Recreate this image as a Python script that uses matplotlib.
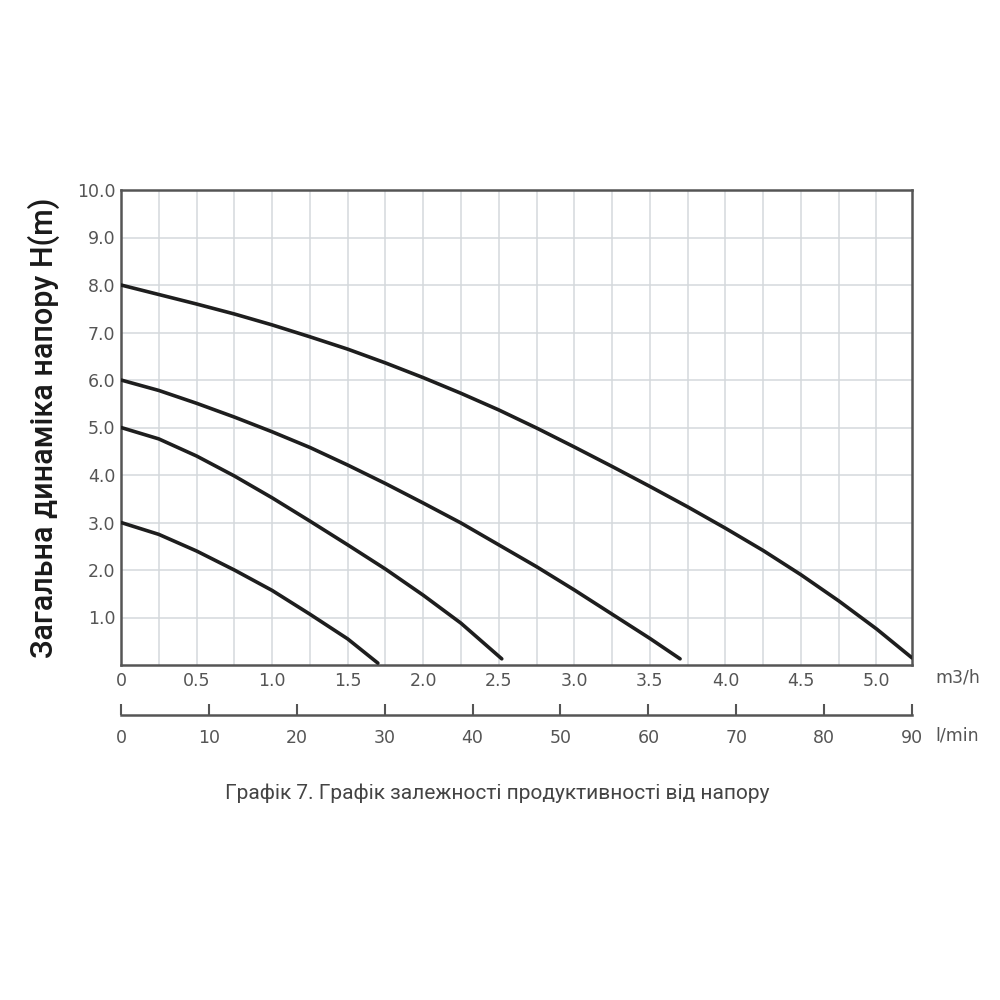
import matplotlib.pyplot as plt

# flow in m3/h, head in m
flow_3m = [0, 0.25, 0.5, 0.75, 1.0, 1.25, 1.5, 1.70]
head_3m = [3.0, 2.75, 2.4, 2.0, 1.57, 1.07, 0.55, 0.04]

flow_5m = [0, 0.25, 0.5, 0.75, 1.0, 1.25, 1.5, 1.75, 2.0, 2.25, 2.52]
head_5m = [5.0, 4.76, 4.4, 3.98, 3.52, 3.03, 2.53, 2.02, 1.47, 0.88, 0.13]

flow_6m = [0, 0.25, 0.5, 0.75, 1.0, 1.25, 1.5, 1.75, 2.0, 2.25, 2.5, 2.75, 3.0, 3.25, 3.5, 3.70]
head_6m = [6.0, 5.78, 5.51, 5.22, 4.91, 4.58, 4.21, 3.82, 3.41, 2.99, 2.53, 2.07, 1.58, 1.07, 0.56, 0.13]

flow_8m = [0, 0.25, 0.5, 0.75, 1.0, 1.25, 1.5, 1.75, 2.0, 2.25, 2.5, 2.75,
           3.0, 3.25, 3.5, 3.75, 4.0, 4.25, 4.5, 4.75, 5.0, 5.235]
head_8m = [8.0, 7.8, 7.6, 7.39, 7.16, 6.91, 6.65, 6.36, 6.05, 5.72, 5.37, 4.99,
           4.59, 4.18, 3.76, 3.33, 2.88, 2.41, 1.9, 1.35, 0.76, 0.15]

m3h_ticks = [0, 0.5, 1.0, 1.5, 2.0, 2.5, 3.0, 3.5, 4.0, 4.5, 5.0]
m3h_labels = ["0", "0.5", "1.0", "1.5", "2.0", "2.5", "3.0", "3.5", "4.0", "4.5", "5.0"]
head_ticks = [1, 2, 3, 4, 5, 6, 7, 8, 9, 10]
lmin_ticks = [0, 10, 20, 30, 40, 50, 60, 70, 80, 90]

x_max = 5.235
grey = "#555555"

fig = plt.figure(figsize=(10, 10), dpi=100)
ax = fig.add_axes([0.121, 0.335, 0.791, 0.475])

for fl, hd in [(flow_3m, head_3m), (flow_5m, head_5m), (flow_6m, head_6m), (flow_8m, head_8m)]:
    ax.plot(fl, hd, color="#1e1e1e", lw=2.6, solid_capstyle="round",
            solid_joinstyle="round", zorder=3)

ax.set_xlim(0, x_max)
ax.set_ylim(0, 10)
ax.set_xticks([i * 0.25 for i in range(21)], minor=True)
ax.set_xticks(m3h_ticks)
ax.set_xticklabels(m3h_labels)
ax.set_yticks(head_ticks)
ax.set_yticklabels(["%.1f" % v for v in head_ticks])
ax.grid(True, which="both", axis="x", color="#d4d8dc", lw=1.1)
ax.grid(True, axis="y", color="#d4d8dc", lw=1.1)
ax.tick_params(which="both", length=0, labelsize=12.5, labelcolor=grey)
ax.tick_params(axis="x", pad=5)
ax.tick_params(axis="y", pad=4)
for s in ax.spines.values():
    s.set_color(grey)
    s.set_linewidth(1.8)

ax.set_ylabel("Загальна динаміка напору H(m)", fontsize=22, color="#1a1a1a",
              family="Roboto", fontweight="medium", labelpad=12)

fig.text(0.935, 0.322, "m3/h", fontsize=12.5, color=grey, va="center")

# second scale in l/min
ax2 = fig.add_axes([0.121, 0.285, 0.791, 0.001])
ax2.set_xlim(0, 90)
ax2.set_xticks(lmin_ticks)
ax2.set_yticks([])
ax2.patch.set_visible(False)
for side in ["top", "left", "right"]:
    ax2.spines[side].set_visible(False)
ax2.spines["bottom"].set_color(grey)
ax2.spines["bottom"].set_linewidth(1.8)
ax2.tick_params(axis="x", direction="in", length=8, width=1.5, color=grey,
                labelsize=12.5, labelcolor=grey, pad=10)
fig.text(0.935, 0.265, "l/min", fontsize=12.5, color=grey, va="center")

fig.text(0.497, 0.207, "Графік 7. Графік залежності продуктивності від напору",
         fontsize=15, color="#444444", family="Roboto", ha="center", va="center")

fig.savefig("out.png", dpi=100, facecolor="white")
